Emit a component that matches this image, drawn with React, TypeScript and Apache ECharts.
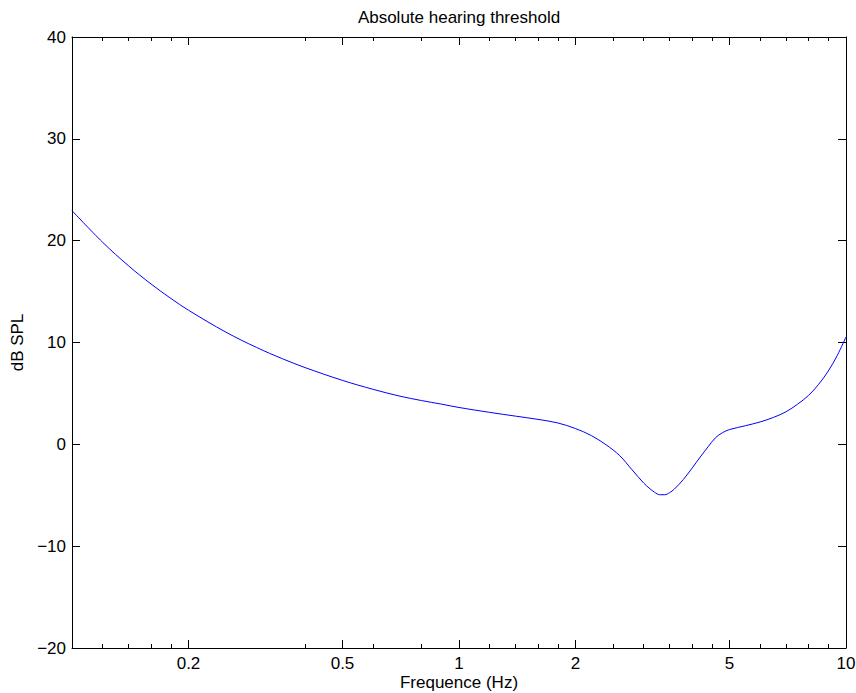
import React, { useEffect, useRef } from "react";
import * as echarts from "echarts";

// Frequency (kHz on the picture's scale, labelled "Hz") and threshold (dB SPL)
const freqValues = [
  0.1, 0.12, 0.14, 0.16, 0.18, 0.2, 0.25, 0.3, 0.35, 0.4, 0.5, 0.6, 0.7, 0.8, 0.9,
  1.0, 1.2, 1.4, 1.6, 1.8, 2.0, 2.2, 2.4, 2.6, 2.8, 3.0, 3.1, 3.2, 3.3, 3.4, 3.5, 3.6, 3.8,
  4.0, 4.2, 4.4, 4.6, 4.8, 5.0, 5.5, 6.0, 6.5, 7.0, 7.5, 8.0, 8.5, 9.0, 9.5, 10,
];
const thresholdDb = [
  22.95, 19.84, 17.53, 15.75, 14.33, 13.17, 11.01, 9.51, 8.4, 7.54, 6.28, 5.4, 4.75, 4.3, 3.95,
  3.62, 3.14, 2.77, 2.45, 2.1, 1.55, 0.85, -0.05, -1.1, -2.5, -3.8, -4.3, -4.7, -4.95, -4.95, -4.75, -4.4, -3.45,
  -2.35, -1.25, -0.25, 0.65, 1.15, 1.45, 1.83, 2.2, 2.65, 3.2, 3.95, 4.8, 5.9, 7.2, 8.75, 10.55,
];
const xMajorTicks = [0.2, 0.5, 1, 2, 5, 10];
const xMinorTicks = [0.12, 0.14, 0.16, 0.18, 0.4, 0.6, 0.8, 1.2, 1.4, 1.6, 1.8, 2.5, 3, 3.5, 4, 4.5, 6, 7, 8, 9];
const yMin = -20;
const yMax = 40;
const yStep = 10;

const FONT = "'Liberation Sans', Arial, Helvetica, sans-serif";
const black = "#000000";

export default function App() {
  const ref = useRef<HTMLDivElement>(null);

  useEffect(() => {
    if (!ref.current) return;
    const chart = echarts.init(ref.current, null, { renderer: "svg" });

    const baseX = {
      type: "log" as const,
      logBase: 10,
      min: 0.1,
      max: 10,
      gridIndex: 0,
      splitLine: { show: false },
      minorTick: { show: false },
      minorSplitLine: { show: false },
    };
    const lineStyle = { color: black, width: 1 };

    // axis that only carries the frame line (and optionally labels)
    const frameAxis = (position: "top" | "bottom", extra: any = {}) => ({
      ...baseX,
      position,
      axisLine: { show: true, onZero: false, lineStyle: { ...lineStyle } },
      axisTick: { show: false },
      axisLabel: { show: false },
      ...extra,
    });
    // axis that only carries ticks
    const tickAxis = (position: "top" | "bottom", values: number[], length: number) => ({
      ...baseX,
      position,
      axisLine: { show: false, onZero: false },
      axisTick: { show: true, inside: true, length, customValues: values, lineStyle: { ...lineStyle } },
      axisLabel: { show: false },
    });

    const option = {
      animation: false,
      backgroundColor: "#ffffff",
      textStyle: { fontFamily: FONT },
      title: {
        text: "Absolute hearing threshold",
        left: 459,
        top: 9,
        textAlign: "center",
        padding: 0,
        textStyle: { fontFamily: FONT, fontSize: 17, fontWeight: "normal", color: black },
      },
      grid: {
        left: 72,
        right: 10,
        top: 37,
        bottom: 45,
        containLabel: false,
        outerBoundsMode: "none",
      },
      xAxis: [
        frameAxis("bottom", {
          axisLabel: {
            show: true,
            customValues: xMajorTicks,
            margin: 7,
            fontSize: 17,
            fontFamily: FONT,
            color: black,
            formatter: (v: number) => String(v),
          },
          name: "Frequence (Hz)",
          nameLocation: "middle",
          nameGap: 25,
          nameMoveOverlap: false,
          nameTextStyle: { fontSize: 17, fontFamily: FONT, color: black, verticalAlign: "top", lineHeight: 18 },
        }),
        tickAxis("bottom", xMajorTicks, 8),
        tickAxis("bottom", xMinorTicks, 4),
        frameAxis("top"),
        tickAxis("top", xMajorTicks, 8),
        tickAxis("top", xMinorTicks, 4),
      ],
      yAxis: [
        {
          type: "value",
          min: yMin,
          max: yMax,
          interval: yStep,
          position: "left",
          splitLine: { show: false },
          axisLine: { show: true, onZero: false, lineStyle },
          axisTick: { show: true, inside: true, length: 8, lineStyle },
          axisLabel: {
            margin: 6,
            fontSize: 17,
            fontFamily: FONT,
            color: black,
            formatter: (v: number) => String(v).replace("-", "\u2212"),
          },
          name: "dB SPL",
          nameLocation: "middle",
          nameRotate: 90,
          nameGap: 46,
          nameMoveOverlap: false,
          nameTextStyle: { fontSize: 17, fontFamily: FONT, color: black },
        },
        {
          type: "value",
          min: yMin,
          max: yMax,
          interval: yStep,
          position: "right",
          splitLine: { show: false },
          axisLine: { show: true, onZero: false, lineStyle },
          axisTick: { show: true, inside: true, length: 8, lineStyle },
          axisLabel: { show: false },
        },
      ],
      series: [
        {
          type: "line",
          xAxisIndex: 0,
          yAxisIndex: 0,
          data: freqValues.map((f, i) => [f, thresholdDb[i]]),
          showSymbol: false,
          symbol: "none",
          smooth: 0.35,
          lineStyle: { color: "#0000ff", width: 1 },
          clip: true,
        },
      ],
    };

    chart.setOption(option as any);
    return () => chart.dispose();
  }, []);

  return (
    <div
      ref={ref}
      style={{ position: "fixed", left: 0, top: 0, width: 856, height: 693, background: "#fff" }}
    />
  );
}
